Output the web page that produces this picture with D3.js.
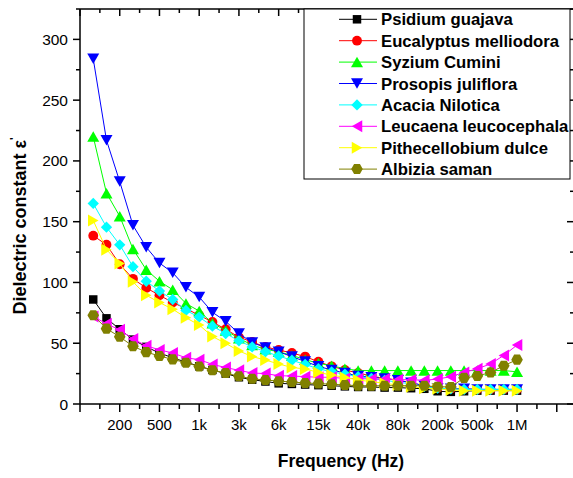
<!DOCTYPE html>
<html>
<head>
<meta charset="utf-8">
<script src="https://cdn.jsdelivr.net/npm/d3@7"></script>
<style>
  body { margin: 0; background: #fff; }
  text { font-family: Arial, "Liberation Sans", sans-serif; }
</style>
</head>
<body>
<script>
// x positions are point indices; every third point carries a frequency label
const tickIdx = [2, 5, 8, 11, 14, 17, 20, 23, 26, 29, 32];
const tickLabels = ["200", "500", "1k", "3k", "6k", "15k", "40k", "80k", "200k", "500k", "1M"];

const names = ["Psidium guajava", "Eucalyptus melliodora", "Syzium Cumini", "Prosopis juliflora",
  "Acacia Nilotica", "Leucaena leucocephala", "Pithecellobium dulce", "Albizia saman"];
const colors = ["#000000", "#ff0000", "#00ff00", "#0000ff", "#00ffff", "#ff00ff", "#ffff00", "#808000"];
const shapes = ["square", "circle", "up", "down", "diamond", "left", "right", "hexagon"];

const psidium = [86, 70.5, 61.5, 53, 47, 42, 38, 34.5, 31, 28, 25, 22, 20, 18.5, 17, 16.5, 16, 15.5, 15, 14.5, 14, 14, 13.5, 13.5, 13, 12.5, 10.5, 10, 10.5, 11, 11, 11, 11];
const eucalyptus = [138.5, 131, 115, 103, 95.5, 89.5, 83.5, 78.5, 73, 67.5, 61.5, 55, 51, 47, 44.4, 42, 39, 34.8, 31, 28, 25.5, 23, 21, 19.7, 17.5, 15, 13, 12.5, 12.5, 12, 12, 12, 12];
const syzium = [220, 173.5, 154.5, 127.5, 110.5, 101, 94, 82.7, 76.5, 66.5, 60.5, 54, 48.5, 45, 43, 40, 36.5, 33.5, 31.5, 29, 27.5, 27.5, 27.5, 27.5, 27.5, 27.5, 27.5, 27.5, 27.5, 27.5, 27.5, 27.5, 26.5];
const prosopis = [284, 217, 183, 147, 129, 116, 108, 96, 88, 75.5, 68, 58, 50.5, 46.5, 43, 39, 35, 31, 28, 25.5, 23, 22, 21, 19.5, 17.5, 15, 13, 12.5, 12.5, 12, 12, 12, 12];
const acacia = [165, 145.5, 131, 113, 101, 93, 86, 77, 71.5, 64, 58, 52, 47, 43, 39.5, 36, 32.5, 29, 26.5, 24.5, 22.5, 21, 19.5, 18, 16.5, 14.5, 13, 12.5, 12, 12, 12, 12, 12];
const leucaena = [72, 66, 61, 53.5, 48, 44.5, 42, 38, 36.5, 32.6, 30, 27.7, 25.5, 25, 23.3, 23, 22.5, 22, 22, 21, 21, 20.5, 20.5, 20, 20, 19.5, 20.5, 22.5, 26, 29, 33, 40, 48.5];
const pithecellobium = [151, 127, 115.5, 100.5, 89.5, 83.5, 78, 71, 65, 55.5, 49.9, 43.7, 39, 36.2, 32.9, 30.1, 28.8, 26, 23.8, 21.9, 19.7, 18.4, 17, 15.6, 14.2, 12.9, 12.5, 11.5, 11, 11, 11, 11, 11];
const albizia = [73, 62, 55.3, 47.5, 42.7, 39.5, 36.7, 34, 30.8, 27.7, 25.5, 22.8, 20.7, 19.8, 18.8, 18.1, 17.3, 16.8, 16.3, 15.6, 15.1, 15, 15, 15, 15, 15, 14.2, 14, 21.5, 23, 26, 31.5, 36.5];

const seriesValues = [psidium, eucalyptus, syzium, prosopis, acacia, leucaena, pithecellobium, albizia];

const width = 573, height = 478;
const plotL = 80, plotR = 574, plotT = 9, plotB = 404;

const svg = d3.select("body").append("svg")
  .attr("width", width)
  .attr("height", height);

const x = d3.scaleLinear().domain([-1, 36.3]).range([plotL, plotR]);
const y = d3.scaleLinear().domain([0, 325]).range([plotB, plotT]);

// marker paths
function markerPath(shape) {
  if (shape === "square") return d3.symbol(d3.symbolSquare, 72)();
  if (shape === "circle") return d3.symbol(d3.symbolCircle, 76)();
  if (shape === "diamond") return d3.symbol(d3.symbolSquare, 64)();
  if (shape === "hexagon") {
    const r = 5.8;
    return d3.line()(d3.range(6).map(k => [r * Math.cos(Math.PI / 3 * k), r * Math.sin(Math.PI / 3 * k)])) + "Z";
  }
  // triangles, centred on their box
  const w = 12, h = 10.5;
  return `M0,${-h / 2}L${w / 2},${h / 2}L${-w / 2},${h / 2}Z`;
}
const rotation = { up: 0, down: 180, left: -90, right: 90, diamond: 45 };

function drawMarker(g, shape, color, cx, cy) {
  g.append("path")
    .attr("d", markerPath(shape))
    .attr("fill", color)
    .attr("transform", `translate(${cx},${cy}) rotate(${rotation[shape] || 0})`);
}

const line = d3.line().x((d, i) => x(i)).y(d => y(d));

// series, first one at the bottom
seriesValues.forEach((vals, s) => {
  const g = svg.append("g");
  g.append("path")
    .attr("d", line(vals))
    .attr("fill", "none")
    .attr("stroke", colors[s])
    .attr("stroke-width", 1);
  vals.forEach((v, i) => drawMarker(g, shapes[s], colors[s], x(i), y(v)));
});

// axes frame
const axisG = svg.append("g").attr("stroke", "#000").attr("stroke-width", 1.5);
axisG.append("line").attr("x1", plotL).attr("x2", plotL).attr("y1", plotT).attr("y2", plotB);
axisG.append("line").attr("x1", plotL).attr("x2", plotR).attr("y1", plotB).attr("y2", plotB);
axisG.append("line").attr("x1", plotL).attr("x2", plotR).attr("y1", plotT).attr("y2", plotT);
axisG.append("line").attr("x1", plotR).attr("x2", plotR).attr("y1", plotT).attr("y2", plotB);

// x ticks: majors every 3 points, minors in between
const xMajor = d3.range(-1, 36, 3);
const xMinor = d3.range(0.5, 36, 3);
xMajor.forEach(i => {
  axisG.append("line").attr("x1", x(i)).attr("x2", x(i)).attr("y1", plotB).attr("y2", plotB + 8);
  axisG.append("line").attr("x1", x(i)).attr("x2", x(i)).attr("y1", plotT).attr("y2", plotT + 7);
});
xMinor.forEach(i => {
  axisG.append("line").attr("x1", x(i)).attr("x2", x(i)).attr("y1", plotB).attr("y2", plotB + 5);
  axisG.append("line").attr("x1", x(i)).attr("x2", x(i)).attr("y1", plotT).attr("y2", plotT + 4);
});

// y ticks
const yMajor = d3.range(0, 301, 50);
const yMinor = d3.range(25, 326, 50);
yMajor.forEach(v => {
  axisG.append("line").attr("x1", plotL - 7).attr("x2", plotL).attr("y1", y(v)).attr("y2", y(v));
  axisG.append("line").attr("x1", plotR - 7).attr("x2", plotR).attr("y1", y(v)).attr("y2", y(v));
});
yMinor.forEach(v => {
  axisG.append("line").attr("x1", plotL - 4).attr("x2", plotL).attr("y1", y(v)).attr("y2", y(v));
  axisG.append("line").attr("x1", plotR - 4).attr("x2", plotR).attr("y1", y(v)).attr("y2", y(v));
});

// tick labels
svg.append("g").selectAll("text")
  .data(tickIdx)
  .join("text")
  .attr("x", d => x(d))
  .attr("y", 430)
  .attr("text-anchor", "middle")
  .attr("font-size", 15)
  .text((d, i) => tickLabels[i]);

svg.append("g").selectAll("text")
  .data(yMajor)
  .join("text")
  .attr("x", 68)
  .attr("y", d => y(d) + 5.5)
  .attr("text-anchor", "end")
  .attr("font-size", 15.5)
  .text(d => d);

// axis titles
svg.append("text")
  .attr("x", 341)
  .attr("y", 467)
  .attr("text-anchor", "middle")
  .attr("font-size", 17.5)
  .attr("font-weight", "bold")
  .text("Frequency (Hz)");

const yt = svg.append("text")
  .attr("transform", "translate(26,226) rotate(-90)")
  .attr("text-anchor", "middle")
  .attr("font-size", 18)
  .attr("font-weight", "bold");
yt.append("tspan").text("Dielectric constant ε");
yt.append("tspan").attr("dy", -8).attr("font-size", 11).text("'");

// legend
const lg = svg.append("g");
lg.append("rect")
  .attr("x", 304).attr("y", 9)
  .attr("width", 266).attr("height", 170)
  .attr("fill", "#fff")
  .attr("stroke", "#000")
  .attr("stroke-width", 1);
names.forEach((n, s) => {
  const ry = 19.3 + s * 21.4;
  lg.append("line")
    .attr("x1", 339).attr("x2", 377)
    .attr("y1", ry).attr("y2", ry)
    .attr("stroke", colors[s]).attr("stroke-width", 1);
  drawMarker(lg, shapes[s], colors[s], 357, ry);
  lg.append("text")
    .attr("x", 381)
    .attr("y", ry + 6)
    .attr("font-size", 16.7)
    .attr("font-weight", "bold")
    .text(n);
});
</script>
</body>
</html>
